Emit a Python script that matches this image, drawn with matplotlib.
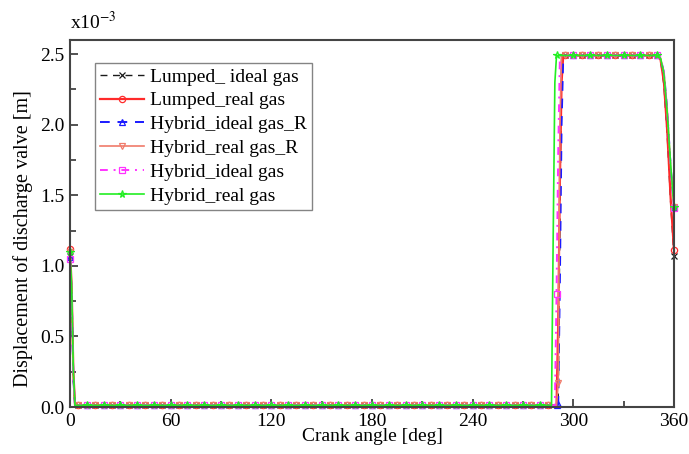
import matplotlib
matplotlib.use("Agg")
import matplotlib.pyplot as plt
from matplotlib.ticker import MultipleLocator

plt.rcParams['font.family'] = ['Liberation Serif', 'DejaVu Serif']
plt.rcParams['mathtext.fontset'] = 'stix'

# ---------------- data ----------------
crank_angle = ([0, 1, 2, 3, 5]
               + list(range(10, 281, 5))
               + [285, 286, 287, 288, 289, 290, 291, 292, 293, 294, 295]
               + list(range(300, 351, 5))
               + [352, 354, 356, 358, 360])

Z = 0.012  # near-zero valve lift
flat_zero = [Z] * 55
plateau = [2.49] * 11

lumped_ideal = ([1.07, 0.80, 0.20, Z, Z] + flat_zero
                + [Z, Z, Z, Z, Z, Z, Z, 1.30, 2.49, 2.49, 2.49]
                + plateau + [2.46, 2.28, 1.92, 1.45, 1.07])
lumped_real = ([1.12, 0.85, 0.25, Z, Z] + flat_zero
               + [Z, Z, Z, Z, Z, Z, 0.60, 1.60, 2.30, 2.49, 2.49]
               + plateau + [2.46, 2.30, 1.95, 1.48, 1.11])
hybrid_ideal_R = ([1.06, 0.80, 0.20, Z, Z] + flat_zero
                  + [Z, Z, Z, Z, Z, Z, 0.02, 0.90, 2.00, 2.49, 2.49]
                  + plateau + [2.47, 2.37, 2.10, 1.70, 1.42])
hybrid_real_R = ([1.10, 0.82, 0.22, Z, Z] + flat_zero
                 + [Z, Z, Z, Z, Z, Z, 0.17, 2.00, 2.49, 2.49, 2.49]
                 + plateau + [2.47, 2.37, 2.10, 1.70, 1.42])
hybrid_ideal = ([1.05, 0.80, 0.20, Z, Z] + flat_zero
                + [Z, Z, Z, Z, Z, 0.80, 1.80, 2.49, 2.49, 2.49, 2.49]
                + plateau + [2.47, 2.37, 2.10, 1.70, 1.41])
hybrid_real = ([1.10, 0.85, 0.25, Z, Z] + flat_zero
               + [Z, Z, Z, 1.20, 2.30, 2.49, 2.49, 2.49, 2.49, 2.49, 2.49]
               + plateau + [2.47, 2.36, 2.08, 1.72, 1.42])

labels = ['Lumped_ ideal gas', 'Lumped_real gas', 'Hybrid_ideal gas_R',
          'Hybrid_real gas_R', 'Hybrid_ideal gas', 'Hybrid_real gas']
series = [lumped_ideal, lumped_real, hybrid_ideal_R, hybrid_real_R,
          hybrid_ideal, hybrid_real]

markers_odd = [0] + list(range(5, 286, 10)) + list(range(295, 346, 10)) + [360]
markers_even = list(range(0, 361, 10))
marker_angles = [markers_odd, markers_odd, markers_even + [291],
                 markers_odd + [291], markers_even, markers_even]

styles = [
    dict(color='#1a1a1a', ls=(0, (5, 4)), marker='x', lw=1.0),
    dict(color='#ff2a2a', ls='-', marker='o', lw=1.6),
    dict(color='#1a1aff', ls=(0, (5, 4)), marker='^', lw=1.4),
    dict(color='#f07a6a', ls='-', marker='v', lw=1.2),
    dict(color='#ff33ff', ls=(0, (4, 3, 1, 3)), marker='s', lw=1.4),
    dict(color='#22ee22', ls='-', marker='*', lw=1.2),
]

# ---------------- figure ----------------
fig = plt.figure(figsize=(6.89, 4.54), dpi=100)
ax = fig.add_axes([0.1016, 0.1035, 0.8766, 0.8085])

for vals, lab, st, mk in zip(series, labels, styles, marker_angles):
    idx = [i for i, a in enumerate(crank_angle) if a in mk]
    ax.plot(crank_angle, vals, label=lab, color=st['color'], ls=st['ls'],
            lw=st['lw'], marker=st['marker'], markevery=idx,
            markersize=5.5 if st['marker'] == '*' else 4.5,
            markerfacecolor='none', markeredgecolor=st['color'],
            markeredgewidth=0.9, clip_on=False)

ax.set_xlim(0, 360)
ax.set_ylim(0, 2.6)
ax.xaxis.set_major_locator(MultipleLocator(60))
ax.xaxis.set_minor_locator(MultipleLocator(30))
ax.yaxis.set_major_locator(MultipleLocator(0.5))
ax.yaxis.set_minor_locator(MultipleLocator(0.25))
ax.yaxis.set_major_formatter(plt.FuncFormatter(lambda v, p: f'{v:.1f}'))
ax.tick_params(which='both', direction='in', top=False, right=False,
               labelsize=14, color='#333333', width=1.2)
ax.tick_params(which='major', length=6, pad=4)
ax.tick_params(which='minor', length=4)
for sp in ax.spines.values():
    sp.set_linewidth(1.5)
    sp.set_color('#444444')

ax.set_xlabel('Crank angle [deg]', fontsize=14, labelpad=-1)
ax.set_ylabel('Displacement of discharge valve [m]', fontsize=14.5)
ax.yaxis.set_label_coords(-0.062, 0.46)
ax.text(0.0, 1.02, r'x10$^{-3}$', transform=ax.transAxes, fontsize=14,
        ha='left', va='bottom')

leg = ax.legend(loc='upper left', bbox_to_anchor=(0.041, 0.937),
                borderaxespad=0, fontsize=14, handlelength=2.3,
                handletextpad=0.3, labelspacing=0.32, borderpad=0.25,
                fancybox=False, frameon=True, numpoints=1)
leg.get_frame().set_edgecolor('#666666')
leg.get_frame().set_linewidth(1.0)

fig.savefig('out.png', dpi=100)
